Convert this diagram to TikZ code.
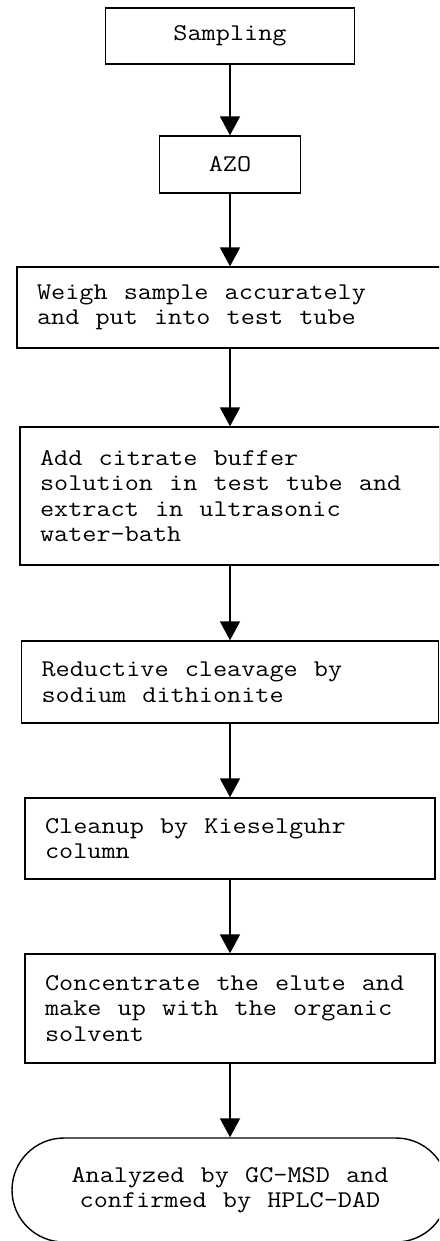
\documentclass[tikz,border=0pt]{standalone}
\usepackage{fontspec}
\setmonofont[FakeStretch=1.143, WordSpace={1.143,0,0}]{Latin Modern Mono}
\usetikzlibrary{arrows.meta,shapes.misc}

\tikzset{
    stepbox/.style={draw, rectangle, line width=1.4pt, align=flush left, inner xsep=20pt, inner ysep=0pt},
    titlebox/.style={draw, rectangle, line width=1.4pt, align=center, inner sep=0pt},
    endbox/.style={draw, rounded rectangle, line width=1.4pt, align=center, inner sep=0pt},
    arr/.style={line width=1.8pt, -{Triangle[length=19pt,width=20pt]}}
}

\begin{document}
\begin{tikzpicture}[x=1pt, y=-1pt, font=\ttfamily\fontsize{24}{25.5}\selectfont]
    \useasboundingbox (0,0) rectangle (439,1241);
    \clip (0,0) rectangle (439,1241);

    % top of the chain
    \node[titlebox, minimum width=249pt, minimum height=56pt] (samp) at (230,36) {Sampling};
    \node[titlebox, minimum width=141pt, minimum height=57pt] (azo) at (230,164.5) {AZO};

    % preparation steps
    \node[stepbox, text width=386pt, minimum height=81pt] (weigh) at (230,307.5)
        {Weigh sample accurately\\and put into test tube};
    \node[stepbox, text width=380pt, minimum height=138pt] (extract) at (230,496)
        {Add citrate buffer\\solution in test tube and\\extract in ultrasonic\\water-bath};
    \node[stepbox, text width=377pt, minimum height=82pt] (reduct) at (230,682)
        {Reductive cleavage by\\sodium dithionite};
    \node[stepbox, text width=370pt, minimum height=81pt] (clean) at (230,838.5)
        {Cleanup by Kieselguhr\\column};
    \node[stepbox, text width=370pt, minimum height=109pt] (conc) at (230,1008.5)
        {Concentrate the elute and\\make up with the organic\\solvent};

    % analysis
    \node[endbox, minimum width=436pt, minimum height=104pt] (anal) at (230,1190)
        {Analyzed by GC-MSD and\\confirmed by HPLC-DAD};

    % arrows
    \draw[arr] (samp) -- (azo);
    \draw[arr] (azo) -- (weigh);
    \draw[arr] (weigh) -- (extract);
    \draw[arr] (extract) -- (reduct);
    \draw[arr] (reduct) -- (clean);
    \draw[arr] (clean) -- (conc);
    \draw[arr] (conc) -- (anal);
\end{tikzpicture}
\end{document}
